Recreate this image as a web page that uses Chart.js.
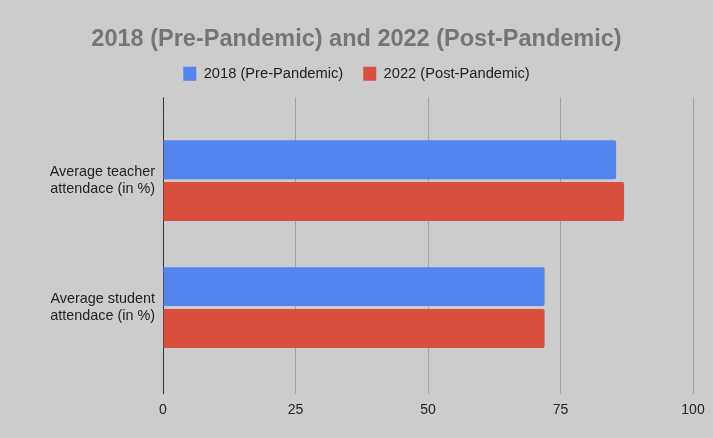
<!DOCTYPE html>
<html>
<head>
<meta charset="utf-8">
<script src="https://cdn.jsdelivr.net/npm/chart.js@4/dist/chart.umd.min.js"></script>
<style>
  html, body { margin: 0; padding: 0; background: #cccccc; }
  canvas { display: block; background: #cccccc; }
</style>
</head>
<body>
<canvas id="c" width="713" height="438"></canvas>
<script>
const categories = [
  ['Average teacher', 'attendace (in %)'],
  ['Average student', 'attendace (in %)']
];
const seriesNames = ['2018 (Pre-Pandemic)', '2022 (Post-Pandemic)'];
const values2018 = [85.5, 72];
const values2022 = [87, 72];
const xTicks = [0, 25, 50, 75, 100];
const titleText = '2018 (Pre-Pandemic) and 2022 (Post-Pandemic)';

const FONT = "'Liberation Sans', Arial, sans-serif";
const gridColor = (ctx) => (ctx.tick && ctx.tick.value === 0) ? '#333333' : '#a3a3a3';

new Chart(document.getElementById('c'), {
  type: 'bar',
  data: {
    labels: categories,
    datasets: [
      { label: seriesNames[0], data: values2018, backgroundColor: '#5484ed', borderRadius: 2,
        categoryPercentage: 0.66, barPercentage: 0.93 },
      { label: seriesNames[1], data: values2022, backgroundColor: '#da503f', borderRadius: 2,
        categoryPercentage: 0.66, barPercentage: 0.93 }
    ]
  },
  options: {
    indexAxis: 'y',
    responsive: false,
    devicePixelRatio: 1,
    animation: false,
    layout: { padding: { left: 20, right: 20, top: 0, bottom: 0 } },
    plugins: {
      tooltip: { enabled: false },
      title: {
        display: true,
        text: titleText,
        color: '#757575',
        font: { family: FONT, size: 23.5, weight: 'bold', lineHeight: 1.0 },
        padding: { top: 28, bottom: -5 }
      },
      legend: {
        display: true,
        position: 'top',
        labels: {
          color: '#222222',
          font: { family: FONT, size: 14.7 },
          boxWidth: 13,
          boxHeight: 14,
          padding: 20
        }
      }
    },
    scales: {
      x: {
        type: 'linear',
        position: 'bottom',
        min: 0, max: 100,
        afterBuildTicks: (axis) => { axis.ticks = xTicks.map(v => ({ value: v })); },
        afterFit: (axis) => { axis.height = 67; },
        ticks: { color: '#222222', font: { family: FONT, size: 14 }, padding: 8 },
        grid: { color: gridColor, lineWidth: 1, tickLength: 23, drawTicks: true, drawOnChartArea: true },
        border: { display: false }
      },
      x2: {
        type: 'linear',
        position: 'top',
        axis: 'x',
        min: 0, max: 100,
        afterBuildTicks: (axis) => { axis.ticks = xTicks.map(v => ({ value: v })); },
        afterFit: (axis) => { axis.height = 26; },
        ticks: { display: false },
        grid: { color: gridColor, lineWidth: 1, tickLength: 20, drawTicks: true, drawOnChartArea: false },
        border: { display: false }
      },
      y: {
        afterFit: (axis) => { axis.width = 143; },
        ticks: { color: '#222222', font: { family: FONT, size: 14.4 }, padding: 8 },
        grid: { display: false, drawTicks: false },
        border: { display: false }
      }
    }
  }
});
</script>
</body>
</html>
